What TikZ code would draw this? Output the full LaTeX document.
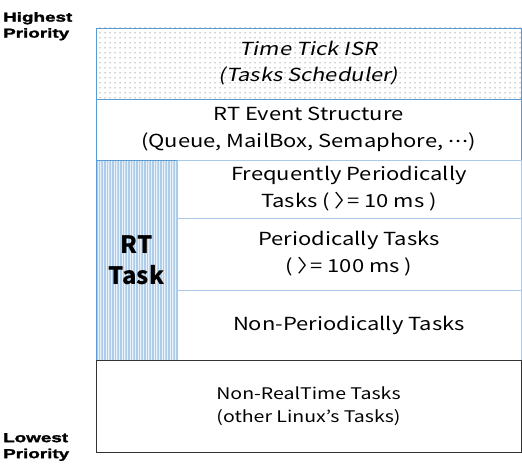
\documentclass[tikz,border=0pt]{standalone}
\usepackage{fontspec}
\setmainfont[FakeStretch=1.22]{Noto Sans CJK KR}
\newfontfamily\slantfont[FakeSlant=0.2,FakeStretch=1.22]{Noto Sans CJK KR}
\newfontfamily\rtfont{Noto Sans CJK KR}
\newfontfamily\priofont[FakeStretch=1.45,FakeBold=2]{Liberation Sans Bold}
\usetikzlibrary{patterns.meta,positioning}
\definecolor{rtblue}{RGB}{91,155,213}
\definecolor{rowline}{RGB}{170,200,232}
\definecolor{colfill}{RGB}{232,241,250}

\begin{document}
\begin{tikzpicture}[x=1pt,y=-1pt,
  layer/.style={draw=rtblue,line width=0.8pt,inner sep=0pt,outer sep=0pt,
    align=center,font=\fontsize{18}{27}\selectfont},
  tickbox/.style={layer,pattern={Dots[distance=5pt,radius=0.5pt]},pattern color=black!80},
  rowbox/.style={layer,draw=rowline,anchor=north west,minimum width=344pt},
  colbox/.style={layer,anchor=north west,
    preaction={fill=colfill},pattern={Lines[angle=90,distance=1.6pt,line width=0.4pt]},pattern color=rtblue!50},
  prio/.style={anchor=north west,align=left,inner sep=0pt,font=\priofont\fontsize{13}{16}\selectfont}]
\useasboundingbox (0,0) rectangle (522,468);

% priority labels
\node[prio] (highest) at (3,12) {Highest\\Priority};
\node[prio] (lowest) at (3,433) {Lowest\\Priority};

% layers, top to bottom
\node[tickbox,anchor=north west,minimum width=425pt,minimum height=71pt,
  font=\slantfont\fontsize{18}{26}\selectfont] (isr) at (96,28)
  {Time Tick ISR\\(Tasks Scheduler)};
\node[layer,below=0pt of isr,minimum width=425pt,minimum height=61pt] (event)
  {RT Event Structure\\(Queue, MailBox, Semaphore, \raisebox{.3em}{.\kern.05em.\kern.05em.})};
\node[colbox,minimum width=81pt,minimum height=200pt,
  font=\rtfont\bfseries\fontsize{24}{31}\selectfont] (rttask) at (event.south west)
  {RT\\Task};
\node[rowbox,minimum height=58pt] (freq) at (rttask.north east)
  {Frequently Periodically\\Tasks (\kern.25em〉\kern-.5em= 10 ms )};
\node[rowbox,minimum height=72pt] (period) at (freq.south west)
  {Periodically Tasks\\(\kern.25em〉\kern-.5em= 100 ms )};
\node[rowbox,minimum height=70pt] (nonperiod) at (period.south west)
  {Non-Periodically Tasks};
\node[layer,draw=black!80,anchor=north west,minimum width=425pt,minimum height=92pt,
  font=\fontsize{16}{23}\selectfont] (nonrt) at (rttask.south west)
  {Non-RealTime Tasks\\(other Linux’s Tasks)};
\end{tikzpicture}
\end{document}
